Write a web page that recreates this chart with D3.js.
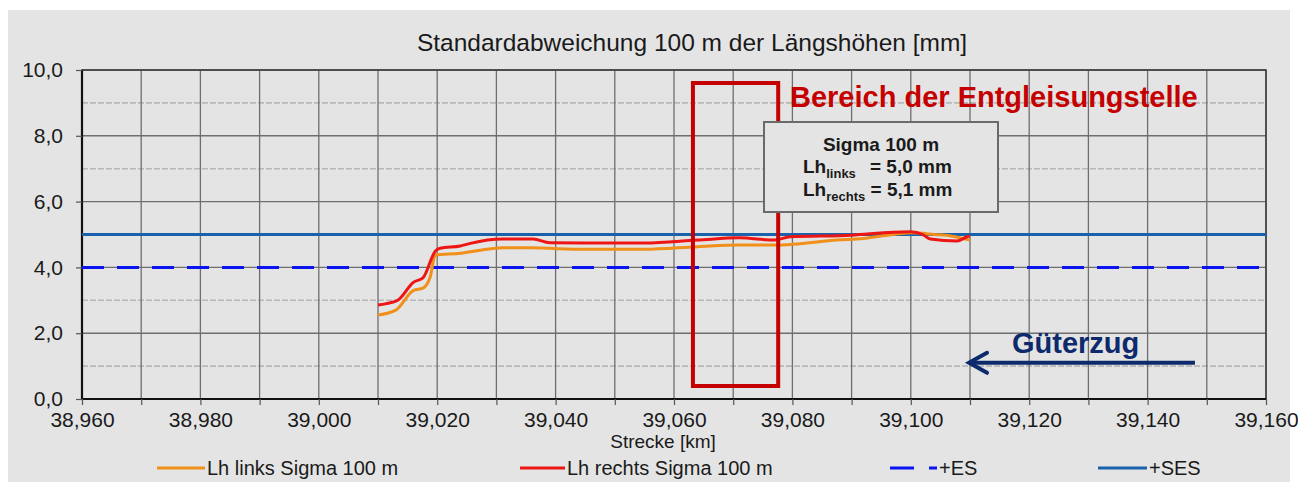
<!DOCTYPE html>
<html>
<head>
<meta charset="utf-8">
<script src="https://cdn.jsdelivr.net/npm/d3@7"></script>
<style>
  html, body { margin: 0; padding: 0; background: #ffffff; }
  svg { display: block; font-family: "Liberation Sans", Arial, sans-serif; }
</style>
</head>
<body>
<svg id="chart" width="1298" height="485"></svg>
<script>
// Stationing in km, values in mm
const stationLinks = [39.010, 39.013, 39.016, 39.0176, 39.0188, 39.0197, 39.024, 39.0273, 39.031, 39.036, 39.039, 39.045, 39.055, 39.064, 39.071, 39.077, 39.080, 39.0875, 39.092, 39.096, 39.100, 39.104, 39.107, 39.110];
const lhLinks      = [2.55,   2.70,   3.30,   3.37,    3.70,    4.38,    4.43,   4.52,    4.60,   4.60,   4.58,   4.55,   4.55,   4.63,   4.68,   4.68,   4.70,   4.83,    4.88,   4.98,   5.05,   5.00,   4.95,   4.83];

const stationRechts = [39.010, 39.0133, 39.016, 39.0176, 39.0197, 39.0205, 39.0239, 39.0256, 39.031, 39.0362, 39.039, 39.045, 39.055, 39.064, 39.071, 39.077, 39.0796, 39.090, 39.097, 39.100, 39.102, 39.1033, 39.1078, 39.1095, 39.110];
const lhRechts      = [2.86,   3.00,    3.55,   3.68,    4.50,    4.58,    4.65,    4.73,    4.86,   4.86,    4.75,   4.74,   4.74,   4.83,   4.90,   4.83,   4.93,    4.98,   5.07,   5.08,   5.00,   4.86,    4.80,    4.93,    4.95];

const limitES  = 4.0;   // +ES
const limitSES = 5.0;   // +SES

const xTicks = [38.96, 38.98, 39.00, 39.02, 39.04, 39.06, 39.08, 39.10, 39.12, 39.14, 39.16];
const yTicks = [0, 2, 4, 6, 8, 10];

const derailRange = [39.0632, 39.0776];   // Bereich der Entgleisungstelle
const trainArrow  = [39.148, 39.1095];    // Fahrtrichtung Güterzug (from -> to)
const trainArrowY = 1.1;

const seriesNames = ["Lh links Sigma 100 m", "Lh rechts Sigma 100 m", "+ES", "+SES"];

const de = d3.formatLocale({ decimal: ",", thousands: ".", grouping: [3], currency: ["", " €"] });
const fmtX = de.format(".3f");
const fmtY = de.format(".1f");

const svg = d3.select("#chart");
const m = { left: 82, right: 1266, top: 70, bottom: 399 };
const ink = "#1a1a1a";

// frame background
svg.append("rect").attr("x", 8).attr("y", 10).attr("width", 1282).attr("height", 472).attr("fill", "#e4e4e4");

const x = d3.scaleLinear().domain([38.96, 39.16]).range([m.left, m.right]);
const y = d3.scaleLinear().domain([0, 10]).range([m.bottom, m.top]);

// grid
const grid = svg.append("g");
d3.range(0, 10.001, 1).forEach(v => {
  const major = Math.round(v) % 2 === 0;
  grid.append("line")
    .attr("x1", m.left).attr("x2", m.right).attr("y1", y(v)).attr("y2", y(v))
    .attr("stroke", major ? "#6e6e6e" : "#b8b8b8")
    .attr("stroke-width", major ? 1.4 : 1.6)
    .attr("stroke-dasharray", major ? null : "6,2");
});
d3.range(38.96, 39.1601, 0.01).forEach(v => {
  grid.append("line")
    .attr("x1", x(v)).attr("x2", x(v)).attr("y1", m.top).attr("y2", m.bottom)
    .attr("stroke", "#6e6e6e").attr("stroke-width", 1.3);
});

// plot border
svg.append("rect").attr("x", m.left).attr("y", m.top)
  .attr("width", m.right - m.left).attr("height", m.bottom - m.top)
  .attr("fill", "none").attr("stroke", "#3a3a3a").attr("stroke-width", 1.5);
svg.append("line").attr("x1", m.left).attr("x2", m.right).attr("y1", m.bottom).attr("y2", m.bottom)
  .attr("stroke", "#111").attr("stroke-width", 2.2);
svg.append("line").attr("x1", m.left).attr("x2", m.left).attr("y1", m.top).attr("y2", m.bottom)
  .attr("stroke", "#111").attr("stroke-width", 2.2);

// axes
const xAxis = d3.axisBottom(x).tickValues(d3.range(38.96, 39.1601, 0.01)).tickSize(6)
  .tickFormat(d => xTicks.some(t => Math.abs(t - d) < 1e-6) ? fmtX(d) : "");
const gx = svg.append("g").attr("transform", `translate(0,${m.bottom})`).call(xAxis);
gx.select(".domain").remove();
gx.selectAll(".tick line").attr("stroke", "#555").attr("stroke-width", 1.2);
gx.selectAll(".tick text").attr("font-size", 21).attr("fill", ink).attr("y", 8).attr("dy", "0.95em")
  .attr("font-family", "Liberation Sans, Arial, sans-serif");

const yAxis = d3.axisLeft(y).tickValues(yTicks).tickSize(6).tickFormat(fmtY);
const gy = svg.append("g").attr("transform", `translate(${m.left},0)`).call(yAxis);
gy.select(".domain").remove();
gy.selectAll(".tick line").attr("stroke", "#555").attr("stroke-width", 1.2);
gy.selectAll(".tick text").attr("font-size", 21).attr("fill", ink).attr("x", -19)
  .attr("font-family", "Liberation Sans, Arial, sans-serif");

// title and axis label
svg.append("text").attr("x", 692).attr("y", 51).attr("text-anchor", "middle")
  .attr("font-size", 24.5).attr("fill", ink).text("Standardabweichung 100 m der Längshöhen [mm]");
svg.append("text").attr("x", 663).attr("y", 448).attr("text-anchor", "middle")
  .attr("font-size", 19).attr("fill", ink).text("Strecke [km]");

// limit lines
svg.append("line").attr("x1", m.left).attr("x2", m.right).attr("y1", y(limitES)).attr("y2", y(limitES))
  .attr("stroke", "#0a14f0").attr("stroke-width", 3).attr("stroke-dasharray", "22,13");
svg.append("line").attr("x1", m.left).attr("x2", m.right).attr("y1", y(limitSES)).attr("y2", y(limitSES))
  .attr("stroke", "#1a63ac").attr("stroke-width", 3.2);

// data lines
const line = d3.line().x(d => x(d[0])).y(d => y(d[1])).curve(d3.curveMonotoneX);
svg.append("path").datum(stationLinks.map((s, i) => [s, lhLinks[i]]))
  .attr("d", line).attr("fill", "none").attr("stroke", "#f0901a").attr("stroke-width", 3);
svg.append("path").datum(stationRechts.map((s, i) => [s, lhRechts[i]]))
  .attr("d", line).attr("fill", "none").attr("stroke", "#ee1515").attr("stroke-width", 3);

// derailment area
svg.append("rect")
  .attr("x", x(derailRange[0])).attr("y", 83)
  .attr("width", x(derailRange[1]) - x(derailRange[0])).attr("height", 303)
  .attr("fill", "none").attr("stroke", "#c40000").attr("stroke-width", 4);
svg.append("text").attr("x", 790).attr("y", 107).attr("font-size", 29).attr("font-weight", "bold")
  .attr("fill", "#c40000").text("Bereich der Entgleisungstelle");

// info box
const box = svg.append("g").attr("fill", ink).attr("font-weight", "bold");
box.append("rect").attr("x", 764).attr("y", 122).attr("width", 234).attr("height", 90)
  .attr("fill", "#e4e4e4").attr("stroke", "#6a6a6a").attr("stroke-width", 2);
box.append("text").attr("x", 881).attr("y", 151).attr("text-anchor", "middle")
  .attr("font-size", 19).text("Sigma 100 m");
const t1 = box.append("text").attr("x", 803).attr("y", 173).attr("font-size", 19);
t1.append("tspan").text("Lh");
t1.append("tspan").attr("font-size", 13).attr("dy", 5).text("links");
t1.append("tspan").attr("x", 870).attr("dy", -5).text("= 5,0 mm");
const t2 = box.append("text").attr("x", 803).attr("y", 196).attr("font-size", 19);
t2.append("tspan").text("Lh");
t2.append("tspan").attr("font-size", 13).attr("dy", 5).text("rechts");
t2.append("tspan").attr("dy", -5).text(" = 5,1 mm");

// train direction arrow
const ay = y(trainArrowY);
const ax0 = x(trainArrow[0]), ax1 = x(trainArrow[1]);
svg.append("line").attr("x1", ax0).attr("x2", ax1 + 3).attr("y1", ay).attr("y2", ay)
  .attr("stroke", "#0c2a6c").attr("stroke-width", 4);
svg.append("path").attr("d", `M${ax1 + 20},${ay - 10} L${ax1 + 2},${ay} L${ax1 + 20},${ay + 10}`)
  .attr("fill", "none").attr("stroke", "#0c2a6c").attr("stroke-width", 4)
  .attr("stroke-linecap", "round").attr("stroke-linejoin", "miter");
svg.append("text").attr("x", 1012).attr("y", 353).attr("font-size", 29).attr("font-weight", "bold")
  .attr("fill", "#0c2a6c").text("Güterzug");

// legend
const legend = svg.append("g").attr("font-size", 20).attr("fill", ink);
const legendItems = [
  { name: seriesNames[0], x1: 157, x2: 205, color: "#f0901a", dash: null },
  { name: seriesNames[1], x1: 520, x2: 565, color: "#ee1515", dash: null },
  { name: seriesNames[2], x1: 890, x2: 937, color: "#0a14f0", dash: "24,15" },
  { name: seriesNames[3], x1: 1098, x2: 1147, color: "#1a63ac", dash: null }
];
legendItems.forEach(it => {
  legend.append("line").attr("x1", it.x1).attr("x2", it.x2).attr("y1", 468).attr("y2", 468)
    .attr("stroke", it.color).attr("stroke-width", 3).attr("stroke-dasharray", it.dash);
  legend.append("text").attr("x", it.x2 + 2).attr("y", 475).text(it.name);
});
</script>
</body>
</html>
